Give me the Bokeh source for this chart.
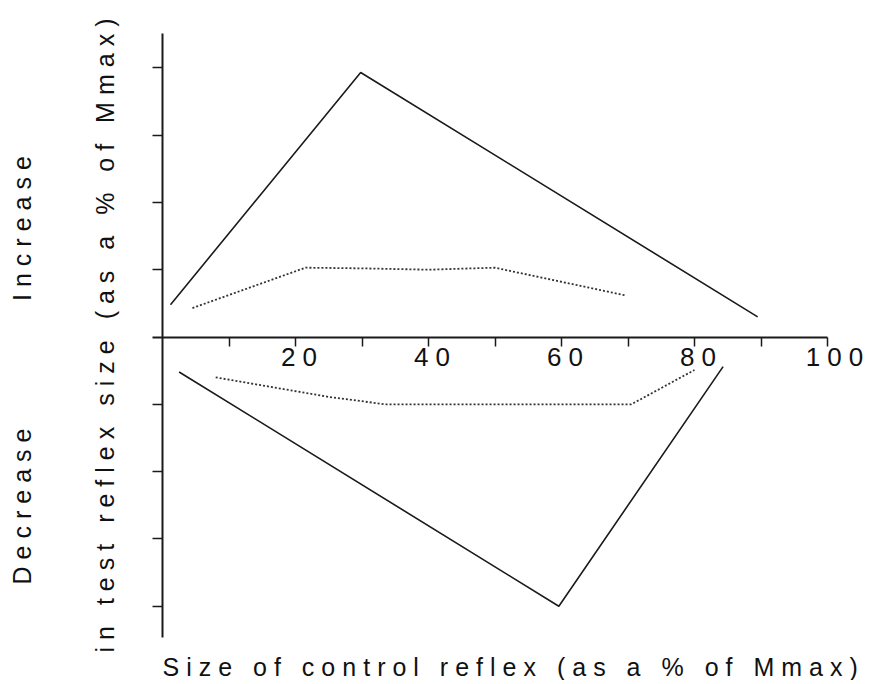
from bokeh.plotting import figure
from bokeh.models import Range1d, FixedTicker, Label, InlineStyleSheet
from bokeh.embed import file_html
from bokeh.resources import INLINE

# ---- data ----
inc_solid_x = [1.2, 29.8, 89.5]
inc_solid_y = [0.48, 3.93, 0.30]

inc_dot_x = [4.5, 21.5, 30, 40, 50, 69.5]
inc_dot_y = [0.43, 1.03, 1.02, 1.00, 1.03, 0.62]

dec_solid_x = [2.5, 59.6, 84.3]
dec_solid_y = [-0.52, -4.0, -0.44]

dec_dot_x = [8, 25, 33.5, 50, 70.5, 80]
dec_dot_y = [-0.60, -0.89, -1.0, -1.0, -1.0, -0.49]

x_major_ticks = [20, 40, 60, 80, 100]
x_minor_ticks = [10, 30, 50, 70, 90]
y_ticks = [-4, -3, -2, -1, 1, 2, 3, 4]

x_title = "Size of control reflex (as a % of Mmax)"
y_title = "in test reflex size (as a % of Mmax)"
inc_text = "Increase"
dec_text = "Decrease"

FONT = "Liberation Sans"
INK = "#1a1a1a"

W, H = 870, 680
X0_PX, X_SCALE = 162, 6.65     # pixel of x=0, pixels per x unit
Y0_PX, Y_SCALE = 336.5, 67.3   # pixel of y=0, pixels per y unit

p = figure(
    width=W, height=H,
    min_border=0,
    x_range=Range1d(-X0_PX / X_SCALE, (W - X0_PX) / X_SCALE),
    y_range=Range1d((Y0_PX - H) / Y_SCALE, Y0_PX / Y_SCALE),
    output_backend="svg", toolbar_location=None,
)
# the original typesetting is widely letter-spaced
p.stylesheets = [InlineStyleSheet(css=":host { letter-spacing: 7px; }")]
p.outline_line_color = None
p.grid.visible = False
p.background_fill_color = "white"
p.border_fill_color = "white"

# axes crossing at origin
xa = p.xaxis[0]
xa.fixed_location = 0
xa.bounds = (-1.5, 100)
xa.ticker = FixedTicker(ticks=x_major_ticks, minor_ticks=x_minor_ticks)
xa.major_tick_out = 9
xa.major_tick_in = 0
xa.minor_tick_out = 9
xa.minor_tick_in = 0
xa.axis_line_width = 2
xa.axis_line_color = INK
xa.major_tick_line_color = INK
xa.minor_tick_line_color = INK
xa.major_tick_line_width = 1.5
xa.minor_tick_line_width = 1.5
xa.major_label_text_font = FONT
xa.major_label_text_font_size = "26px"
xa.major_label_text_color = "#111111"
xa.major_label_standoff = 2

ya = p.yaxis[0]
ya.fixed_location = 0
ya.bounds = (-4.465, 4.51)
ya.ticker = FixedTicker(ticks=[], minor_ticks=y_ticks)
ya.minor_tick_out = 10
ya.minor_tick_in = 0
ya.major_tick_out = 0
ya.axis_line_width = 2
ya.axis_line_color = INK
ya.minor_tick_line_color = INK
ya.minor_tick_line_width = 1.5

# curves
p.line(inc_solid_x, inc_solid_y, line_color=INK, line_width=1.6)
p.line(dec_solid_x, dec_solid_y, line_color=INK, line_width=1.6)
p.line(inc_dot_x, inc_dot_y, line_color="#333333", line_width=1.8, line_dash="2 2")
p.line(dec_dot_x, dec_dot_y, line_color="#333333", line_width=1.8, line_dash="2 2")

# text labels (left-anchored; letter spacing grows them forward)
common = dict(text_font=FONT, text_font_size="25px", text_color="#111111",
              text_align="left", text_baseline="middle")
p.add_layout(Label(x=0.0, y=-4.91, text=x_title, **common))
p.add_layout(Label(x=-8.7, y=-4.688, text=y_title, angle=90, angle_units="deg", **common))
p.add_layout(Label(x=-21.2, y=0.535, text=inc_text, angle=90, angle_units="deg", **common))
p.add_layout(Label(x=-21.1, y=-3.678, text=dec_text, angle=90, angle_units="deg", **common))

open("out.html", "w").write(file_html(p, INLINE))
